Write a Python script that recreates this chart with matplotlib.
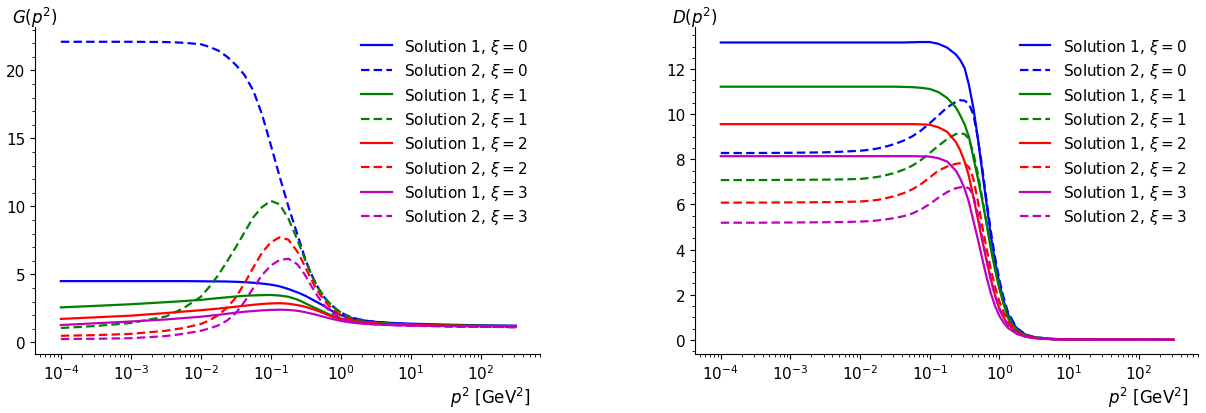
import numpy as np
import matplotlib
matplotlib.use("Agg")
import matplotlib.pyplot as plt
from matplotlib.ticker import MultipleLocator, FixedLocator, NullFormatter

log_p2 = [-4, -3.5, -3, -2.5, -2.25, -2, -1.875, -1.75, -1.625, -1.5,
          -1.375, -1.25, -1.125, -1.0, -0.875, -0.75, -0.625, -0.5625, -0.5, -0.4375,
          -0.375, -0.3125, -0.25, -0.1875, -0.125, -0.0625, 0, 0.0625, 0.125, 0.25,
          0.375, 0.5, 0.75, 1.0, 1.5, 2.0, 2.5]

xis = [0, 1, 2, 3]
colors = ["b", "g", "r", "m"]
decades = [-4, -3, -2, -1, 0, 1, 2]

# ghost dressing G(p^2), solution 1 / solution 2 for each xi
G_sol1_xi0 = [4.5, 4.5, 4.5, 4.5, 4.5, 4.49, 4.48, 4.48, 4.47, 4.45,
              4.42, 4.38, 4.32, 4.24, 4.12, 3.92, 3.68, 3.55, 3.4, 3.23,
              3.05, 2.88, 2.7, 2.5, 2.3, 2.14, 2.0, 1.9, 1.8, 1.67,
              1.57, 1.5, 1.42, 1.37, 1.3, 1.25, 1.22]
G_sol2_xi0 = [22.1, 22.1, 22.1, 22.08, 22.03, 21.92, 21.72, 21.45, 21.0, 20.4,
              19.65, 18.5, 16.75, 14.5, 12.2, 10.0, 8.0, 7.0, 6.0, 5.2,
              4.5, 3.9, 3.4, 3.0, 2.7, 2.42, 2.2, 2.03, 1.9, 1.7,
              1.58, 1.5, 1.38, 1.3, 1.2, 1.15, 1.12]
G_sol1_xi1 = [2.57, 2.68, 2.8, 2.95, 3.03, 3.12, 3.19, 3.25, 3.31, 3.37,
              3.42, 3.45, 3.47, 3.48, 3.44, 3.35, 3.15, 3.01, 2.85, 2.7,
              2.55, 2.4, 2.25, 2.1, 1.95, 1.84, 1.75, 1.68, 1.62, 1.55,
              1.48, 1.43, 1.36, 1.32, 1.26, 1.22, 1.2]
G_sol2_xi1 = [1.05, 1.2, 1.42, 1.9, 2.5, 3.35, 4.1, 4.95, 5.95, 7.0,
              8.1, 9.2, 9.95, 10.4, 10.15, 9.1, 7.6, 6.75, 5.95, 5.2,
              4.5, 3.92, 3.43, 3.02, 2.7, 2.42, 2.2, 2.0, 1.85, 1.65,
              1.52, 1.45, 1.35, 1.28, 1.2, 1.15, 1.12]
G_sol1_xi2 = [1.72, 1.84, 1.96, 2.15, 2.26, 2.36, 2.42, 2.48, 2.55, 2.62,
              2.69, 2.76, 2.82, 2.86, 2.88, 2.84, 2.74, 2.68, 2.6, 2.5,
              2.4, 2.28, 2.15, 2.02, 1.9, 1.8, 1.7, 1.63, 1.57, 1.48,
              1.42, 1.38, 1.32, 1.28, 1.23, 1.2, 1.18]
G_sol2_xi2 = [0.48, 0.53, 0.62, 0.85, 1.05, 1.35, 1.62, 2.0, 2.55, 3.3,
              4.35, 5.5, 6.6, 7.35, 7.72, 7.55, 6.7, 6.1, 5.45, 4.8,
              4.15, 3.62, 3.2, 2.78, 2.45, 2.2, 2.0, 1.85, 1.72, 1.55,
              1.44, 1.38, 1.3, 1.25, 1.18, 1.15, 1.12]
G_sol1_xi3 = [1.27, 1.4, 1.53, 1.68, 1.78, 1.88, 1.95, 2.02, 2.1, 2.18,
              2.25, 2.3, 2.35, 2.38, 2.4, 2.38, 2.32, 2.27, 2.2, 2.13,
              2.06, 1.97, 1.88, 1.8, 1.72, 1.65, 1.58, 1.52, 1.47, 1.4,
              1.35, 1.31, 1.26, 1.23, 1.2, 1.18, 1.17]
G_sol2_xi3 = [0.24, 0.26, 0.3, 0.46, 0.62, 0.85, 1.02, 1.25, 1.6, 2.15,
              3.0, 4.0, 4.95, 5.65, 6.05, 6.15, 5.75, 5.35, 4.85, 4.3,
              3.75, 3.25, 2.8, 2.45, 2.15, 1.95, 1.8, 1.68, 1.58, 1.45,
              1.37, 1.32, 1.26, 1.22, 1.17, 1.14, 1.12]

# gluon propagator D(p^2)
D_sol1_xi0 = [13.18, 13.18, 13.18, 13.18, 13.18, 13.18, 13.18, 13.18, 13.18, 13.18,
              13.18, 13.19, 13.2, 13.2, 13.12, 12.95, 12.65, 12.4, 12.05, 11.3,
              10.3, 9.0, 7.55, 6.1, 4.65, 3.45, 2.5, 1.7, 1.12, 0.5,
              0.23, 0.11, 0.04, 0.015, 0.004, 0.001, 0.0]
D_sol2_xi0 = [8.28, 8.28, 8.29, 8.31, 8.34, 8.38, 8.42, 8.48, 8.57, 8.68,
              8.83, 9.02, 9.28, 9.6, 9.95, 10.3, 10.55, 10.62, 10.6, 10.45,
              10.0, 9.0, 7.7, 6.25, 4.85, 3.65, 2.65, 1.85, 1.2, 0.52,
              0.24, 0.12, 0.04, 0.015, 0.004, 0.001, 0.0]
D_sol1_xi1 = [11.22, 11.22, 11.22, 11.22, 11.22, 11.22, 11.22, 11.22, 11.22, 11.22,
              11.21, 11.2, 11.17, 11.12, 10.98, 10.72, 10.3, 9.95, 9.55, 9.0,
              8.1, 7.2, 6.25, 5.2, 4.05, 3.1, 2.25, 1.55, 0.95, 0.43,
              0.2, 0.1, 0.035, 0.013, 0.003, 0.001, 0.0]
D_sol2_xi1 = [7.08, 7.08, 7.09, 7.1, 7.11, 7.13, 7.17, 7.22, 7.3, 7.4,
              7.54, 7.72, 7.97, 8.28, 8.6, 8.9, 9.12, 9.16, 9.12, 8.9,
              8.3, 7.4, 6.35, 5.25, 4.2, 3.2, 2.35, 1.65, 1.05, 0.45,
              0.21, 0.1, 0.035, 0.013, 0.003, 0.001, 0.0]
D_sol1_xi2 = [9.56, 9.56, 9.56, 9.56, 9.56, 9.56, 9.56, 9.56, 9.56, 9.56,
              9.56, 9.56, 9.55, 9.53, 9.42, 9.22, 8.77, 8.4, 7.9, 7.25,
              6.35, 5.4, 4.45, 3.55, 2.7, 1.98, 1.36, 0.98, 0.68, 0.33,
              0.17, 0.09, 0.03, 0.01, 0.003, 0.001, 0.0]
D_sol2_xi2 = [6.08, 6.08, 6.09, 6.1, 6.11, 6.13, 6.16, 6.2, 6.28, 6.37,
              6.5, 6.67, 6.9, 7.2, 7.5, 7.68, 7.8, 7.83, 7.82, 7.65,
              7.15, 6.2, 5.1, 4.1, 3.15, 2.35, 1.7, 1.2, 0.82, 0.37,
              0.18, 0.09, 0.03, 0.01, 0.003, 0.001, 0.0]
D_sol1_xi3 = [8.14, 8.14, 8.14, 8.14, 8.14, 8.14, 8.14, 8.14, 8.14, 8.14,
              8.14, 8.14, 8.13, 8.12, 8.05, 7.9, 7.5, 7.15, 6.7, 6.1,
              5.3, 4.5, 3.65, 2.82, 2.08, 1.5, 1.06, 0.75, 0.52, 0.26,
              0.13, 0.07, 0.025, 0.008, 0.002, 0.001, 0.0]
D_sol2_xi3 = [5.19, 5.19, 5.2, 5.21, 5.22, 5.24, 5.26, 5.29, 5.34, 5.4,
              5.48, 5.6, 5.78, 6.02, 6.3, 6.55, 6.72, 6.76, 6.78, 6.72,
              6.4, 5.6, 4.6, 3.6, 2.7, 1.95, 1.38, 0.95, 0.65, 0.3,
              0.15, 0.08, 0.03, 0.009, 0.002, 0.001, 0.0]

G_curves = [(G_sol1_xi0, G_sol2_xi0), (G_sol1_xi1, G_sol2_xi1),
            (G_sol1_xi2, G_sol2_xi2), (G_sol1_xi3, G_sol2_xi3)]
D_curves = [(D_sol1_xi0, D_sol2_xi0), (D_sol1_xi1, D_sol2_xi1),
            (D_sol1_xi2, D_sol2_xi2), (D_sol1_xi3, D_sol2_xi3)]

plt.rcParams["font.size"] = 11
plt.rcParams["mathtext.fontset"] = "dejavusans"

XMIN, XMAX = 10 ** -4.37, 10 ** 2.85


def draw_panel(ax, curves, ylabel, ylim, major, minor):
    """Draws one propagator panel with sage-like axes (left/bottom only)."""
    p2 = 10.0 ** np.array(log_p2)
    for xi, color, (sol1, sol2) in zip(xis, colors, curves):
        ax.plot(p2, sol1, color=color, lw=1.6, label=r"Solution 1, $\xi = %d$" % xi)
        ax.plot(p2, sol2, color=color, lw=1.6, ls=(0, (3.8, 1.9)),
                label=r"Solution 2, $\xi = %d$" % xi)

    ax.set_xscale("log")
    ax.set_xlim(XMIN, XMAX)
    ax.set_ylim(*ylim)

    # fixed decade ticks, minor ticks at 2..9 inside the visible range
    major_x = [10.0 ** d for d in decades]
    minor_x = [m * 10.0 ** d for d in range(-5, 3) for m in range(2, 10)
               if XMIN <= m * 10.0 ** d <= XMAX]
    ax.xaxis.set_major_locator(FixedLocator(major_x))
    ax.xaxis.set_minor_locator(FixedLocator(minor_x))
    ax.xaxis.set_minor_formatter(NullFormatter())
    ax.yaxis.set_major_locator(MultipleLocator(major))
    ax.yaxis.set_minor_locator(MultipleLocator(minor))

    ax.spines["top"].set_visible(False)
    ax.spines["right"].set_visible(False)

    ax.text(0.0, 1.031, ylabel, transform=ax.transAxes, ha="center", va="center", fontsize=12)
    ax.text(0.982, -0.131, r"$p^2$ [GeV$^2$]", transform=ax.transAxes,
            ha="right", va="center", fontsize=12)

    ax.legend(loc="upper left", bbox_to_anchor=(0.646, 0.971), frameon=False,
              borderaxespad=0, borderpad=0, labelspacing=0.35, fontsize=11)


fig = plt.figure(figsize=(12.06, 4.14), dpi=100)
ax1 = fig.add_axes([0.029, 0.1425, 0.419, 0.789])
ax2 = fig.add_axes([0.5763, 0.1425, 0.417, 0.789])

draw_panel(ax1, G_curves, r"$G(p^2)$", (-0.86, 23.16), 5, 1)
draw_panel(ax2, D_curves, r"$D(p^2)$", (-0.63, 13.85), 2, 0.5)

fig.savefig("out.png", dpi=100)
